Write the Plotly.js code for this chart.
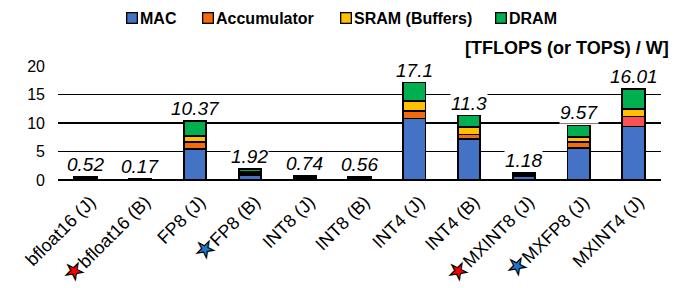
<!DOCTYPE html>
<html><head><meta charset="utf-8">
<script src="https://cdn.plot.ly/plotly-3.0.1.min.js"></script>
<style>body{margin:0;background:#fff}#c{width:681px;height:288px}</style>
</head><body><div id="c"></div>
<script>
const categories = ["bfloat16 (J)","bfloat16 (B)","FP8 (J)","FP8 (B)","INT8 (J)","INT8 (B)","INT4 (J)","INT4 (B)","MXINT8 (J)","MXFP8 (J)","MXINT4 (J)"];
const starColors = [null,"red",null,"#1F77C4",null,null,null,null,"red","#1F77C4",null];
const mac   = [0.25,0.08,5.44,0.85,0.35,0.27,10.8,7.2,0.70,5.65,9.4];
const accum = [0.10,0.03,1.16,0.30,0.13,0.10,1.3,0.8,0.15,0.95,1.75];
const sram  = [0.07,0.03,1.18,0.30,0.12,0.09,1.8,1.35,0.15,0.90,1.3];
const dram  = [0.10,0.03,2.59,0.47,0.14,0.10,3.2,1.95,0.18,2.07,3.56];
const totals = ["0.52","0.17","10.37","1.92","0.74","0.56","17.1","11.3","1.18","9.57","16.01"];
const seriesNames = ["MAC","Accumulator","SRAM (Buffers)","DRAM"];
const seriesColors = ["#4472C4","#F46A0C","#FFC000","#00B050"];
const accColors = categories.map((c,i)=> i===10 ? "#FF5050" : seriesColors[1]);
const yTicks = [0,5,10,15,20];
const yTitle = "[TFLOPS (or TOPS) / W]";

const idx = categories.map((c,i)=>i);
const F = "Liberation Sans, Arial, sans-serif";
const vals = [mac,accum,sram,dram];
const traces = vals.map((v,k)=>({
  type:"bar", x:idx, y:v, name:seriesNames[k], width:0.41,
  marker:{color: k===1 ? accColors : seriesColors[k], line:{color:"#000",width:1.8}},
  showlegend:false, hoverinfo:"skip"
}));

const ticktext = categories.map((c,i)=> starColors[i]
  ? `<span style="fill:${starColors[i]};stroke:#000;stroke-width:1.2px;font-size:22px">★</span>${c}` : c);

const L=58, R=661, T=66, B=180;
const px = x => (x-L)/(R-L);
const py = y => (B-y)/(B-T);
const ann = [];
idx.forEach(i=>{
  const tot = mac[i]+accum[i]+sram[i]+dram[i];
  ann.push({x:i, y:tot, xref:"x", yref:"y", text:totals[i], showarrow:false, yanchor:"bottom",
    yshift:1, bgcolor:"#fff", borderpad:0, font:{family:F,size:19,color:"#000",style:"italic"}});
});
// legend
const legX = [126, 202, 340, 495];
seriesNames.forEach((n,k)=>{
  ann.push({x:px(legX[k]), y:py(18), xref:"paper", yref:"paper", text:"", width:9, height:9,
    bgcolor:seriesColors[k], bordercolor:"#000", borderwidth:1.3, borderpad:0, showarrow:false, xanchor:"left", yanchor:"middle"});
  ann.push({x:px(legX[k]+12), y:py(18), xref:"paper", yref:"paper", text:"<b>"+n+"</b>", showarrow:false,
    xanchor:"left", yanchor:"middle", font:{family:F,size:16,color:"#000"}});
});
ann.push({x:px(671), y:py(48), xref:"paper", yref:"paper", text:"<b>"+yTitle+"</b>", showarrow:false,
  xanchor:"right", yanchor:"middle", font:{family:F,size:18,color:"#000"}});

const layout = {
  width:681, height:288, margin:{l:L, r:681-R, t:T, b:288-B},
  barmode:"stack", paper_bgcolor:"#fff", plot_bgcolor:"#fff",
  font:{family:F, color:"#000"},
  xaxis:{range:[-0.5,10.5], tickvals:idx, ticktext:ticktext, tickangle:-45, showgrid:false, zeroline:false,
    showline:false, ticks:"", ticklabelstandoff:7, ticklabelshift:5,
    tickfont:{family:F,size:18,color:"#000"}, fixedrange:true},
  yaxis:{range:[0,20], tickvals:yTicks, showgrid:true, gridcolor:"#000", gridwidth:1.8, zeroline:true,
    zerolinecolor:"#000", zerolinewidth:2, showline:false, ticks:"", ticklabelstandoff:12,
    tickfont:{family:F,size:16,color:"#000"}, fixedrange:true},
  annotations:ann, showlegend:false
};
Plotly.newPlot("c", traces, layout, {displayModeBar:false, staticPlot:true});
</script></body></html>
